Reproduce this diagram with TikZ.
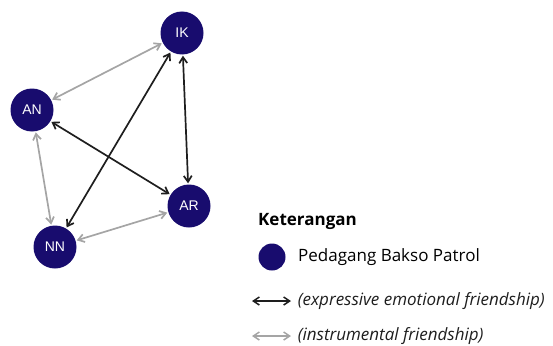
\documentclass[tikz,border=0pt]{standalone}
\usepackage{fontspec}
\setmainfont{Open Sans}
\newfontfamily\labelfont{Liberation Sans}
\usetikzlibrary{arrows.meta}
\definecolor{navy}{RGB}{24,12,110}
\definecolor{strong}{RGB}{30,30,30}
\definecolor{weak}{RGB}{165,165,165}
\tikzset{
  pedagang/.style={circle, fill=navy, minimum size=43pt, inner sep=0pt,
    text=white, font=\labelfont\fontsize{14}{16}\selectfont},
  expr/.style={<->, >={Straight Barb[length=6pt,width=8pt]}, draw=strong, line width=1.7pt, shorten >=1pt, shorten <=1pt},
  instr/.style={<->, >={Straight Barb[length=6pt,width=8pt]}, draw=weak, line width=1.7pt, shorten >=1pt, shorten <=1pt},
  ket/.style={anchor=west, inner sep=0pt, font=\fontsize{17}{20}\selectfont}
}
\begin{document}
\begin{tikzpicture}[x=1pt, y=-1pt]
    \useasboundingbox (0,0) rectangle (553,345);
    \node[pedagang] (IK) at (182,33) {IK}; \node[pedagang] (AN) at (32,110) {AN};
    \node[pedagang] (AR) at (189,206) {AR}; \node[pedagang] (NN) at (55,247) {NN};
    \draw[instr] (AN) -- (IK); \draw[instr] (AN) -- (NN); \draw[instr] (NN) -- (AR);
    \draw[expr] (IK) -- (NN); \draw[expr] (IK) -- (AR); \draw[expr] (AN) -- (AR);
    % keterangan
    \node[ket, font=\fontsize{17}{20}\selectfont\bfseries] (judul) at (258,221) {Keterangan};
    \node[circle, fill=navy, minimum size=27pt, inner sep=0pt] (titik) at (272,257) {};
    \node[ket] (pedagangtxt) at (298,257) {Pedagang Bakso Patrol};
    \coordinate (e1) at (251,301); \coordinate (e2) at (292,301);
    \draw[expr, line width=1.5pt] (e1) -- (e2)
      node[ket, right=5pt, text=strong] (exprtxt) {\itshape (expressive emotional friendship)};
    \coordinate (i1) at (251,336); \coordinate (i2) at (292,336);
    \draw[instr, line width=1.5pt] (i1) -- (i2)
      node[ket, right=5pt, text=strong] (instrtxt) {\itshape (instrumental friendship)};
\end{tikzpicture}
\end{document}
